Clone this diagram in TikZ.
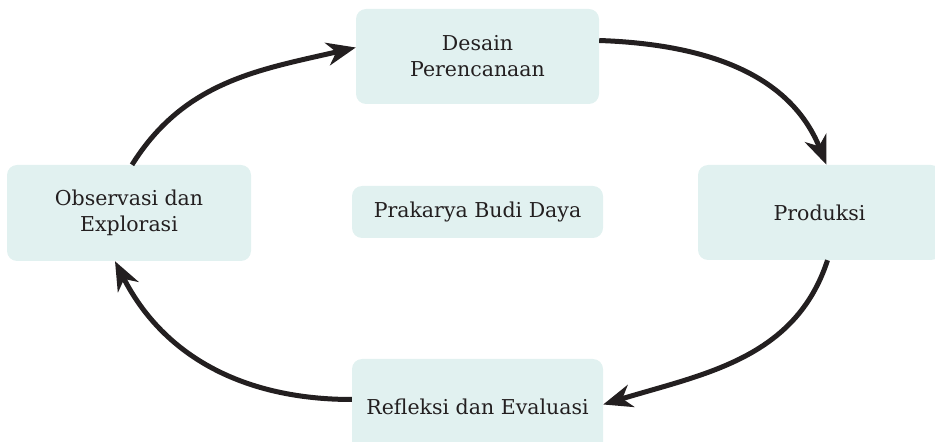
\documentclass[tikz,border=0pt]{standalone}
\usepackage{fontspec}
\setmainfont{DejaVu Serif}
\usetikzlibrary{arrows.meta}
\definecolor{boxfill}{HTML}{E1F1F0}
\definecolor{ink}{HTML}{231F20}
\begin{document}
\begin{tikzpicture}[x=1pt,y=1pt,
  stagebox/.style={fill=boxfill, draw=none, rounded corners=10pt, inner sep=0pt,
    align=center, text=ink, font=\fontsize{20.5}{26}\selectfont},
  flow/.style={draw=ink, line width=5pt,
    -{Stealth[length=29pt, width=23pt, inset=9pt]}}]
\useasboundingbox (0,0) rectangle (935,442);
\node[stagebox, minimum width=243pt, minimum height=95pt] (top) at (477.5,385.5) {Desain\\Perencanaan};
\node[stagebox, minimum width=244pt, minimum height=96pt] (left) at (129,229) {Observasi dan\\Explorasi};
\node[stagebox, minimum width=243pt, minimum height=95pt] (right) at (819.5,229.5) {Produksi};
\node[stagebox, minimum width=251pt, minimum height=95pt] (bottom) at (477.5,35.5) {Refleksi dan Evaluasi};
\node[stagebox, minimum width=251pt, minimum height=52pt] (center) at (477.5,230) {Prakarya Budi Daya};
\draw[flow] ([xshift=3pt]left.north) to[out=58, in=193] ([yshift=9pt]top.west);
\draw[flow] ([yshift=16pt]top.east) to[out=-2, in=112] ([xshift=7pt]right.north);
\draw[flow] ([xshift=8pt]right.south) to[out=-108, in=17] ([yshift=2pt]bottom.east);
\draw[flow] ([yshift=7pt]bottom.west) to[out=180, in=-63] ([xshift=-14pt]left.south);
\end{tikzpicture}
\end{document}
